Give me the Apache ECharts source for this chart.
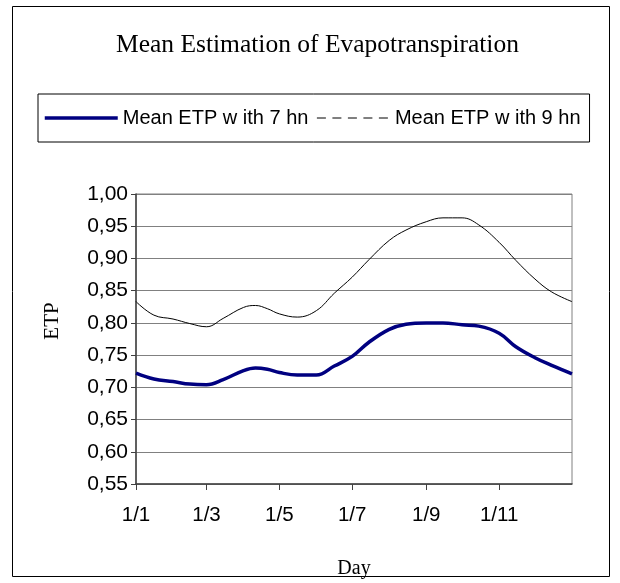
<!DOCTYPE html>
<html>
<head>
<meta charset="utf-8">
<script src="https://cdn.jsdelivr.net/npm/echarts@6/dist/echarts.min.js"></script>
<style>
  html, body { margin: 0; padding: 0; background: #fff; }
  #chart { width: 620px; height: 583px; }
</style>
</head>
<body>
<div id="chart"></div>
<script>
// Day of year for each sample point
var days = [0, 15, 31, 45, 59, 73, 90, 100, 110, 120, 135, 151, 166, 181, 195, 212, 226, 243, 257, 273, 287, 304, 318, 334, 348, 365];
// Mean ETP with 7 hn
var etp7 = [0.722, 0.713, 0.709, 0.705, 0.704, 0.712, 0.726, 0.730, 0.728, 0.723, 0.719, 0.719, 0.733, 0.748, 0.770, 0.790, 0.798, 0.800, 0.800, 0.797, 0.795, 0.784, 0.763, 0.746, 0.734, 0.721];
// Mean ETP with 9 hn
var etp9 = [0.833, 0.812, 0.806, 0.799, 0.794, 0.807, 0.824, 0.827, 0.822, 0.814, 0.809, 0.819, 0.846, 0.871, 0.898, 0.928, 0.944, 0.957, 0.963, 0.963, 0.952, 0.925, 0.897, 0.868, 0.848, 0.833];
// X tick positions (day of year) and labels
var tickDays = [0, 59, 120, 181, 243, 304];
var tickLabels = ['1/1', '1/3', '1/5', '1/7', '1/9', '1/11'];
var seriesNames = ['Mean ETP w ith 7 hn', 'Mean ETP w ith 9 hn'];

function pairs(xs, ys) { return xs.map(function (x, i) { return [x, ys[i]]; }); }

var chart = echarts.init(document.getElementById('chart'), null, { renderer: 'canvas' });
chart.setOption({
  backgroundColor: '#ffffff',
  animation: false,
  title: {
    text: 'Mean Estimation of Evapotranspiration',
    left: 111,
    top: 27,
    textStyle: { fontFamily: 'Liberation Serif', fontWeight: 'normal', fontSize: 25.5, color: '#000' }
  },
  legend: {
    left: 38,
    top: 94,
    padding: [14, 9, 14, 5],
    borderColor: '#000',
    borderWidth: 1,
    itemWidth: 73,
    itemHeight: 14,
    itemGap: 8,
    itemStyle: { opacity: 0 },
    textStyle: { fontFamily: 'Liberation Sans', fontSize: 20, color: '#000' },
    data: [
      { name: seriesNames[0], lineStyle: { width: 3.5, color: '#000080' } },
      { name: seriesNames[1], lineStyle: { type: [9, 6.5], width: 1, color: '#000' } }
    ]
  },
  graphic: [{
    type: 'rect',
    shape: { x: 12.5, y: 6.5, width: 597, height: 570 },
    style: { fill: 'none', stroke: '#000', lineWidth: 1 },
    silent: true,
    z: -1
  }],
  grid: {
    left: 136, right: 48, top: 194, bottom: 99,
    show: true, borderColor: '#808080', borderWidth: 1
  },
  xAxis: {
    type: 'value',
    min: 0, max: 365,
    name: 'Day',
    nameLocation: 'middle',
    nameGap: 75,
    nameTextStyle: { fontFamily: 'Liberation Serif', fontSize: 20, color: '#000' },
    axisLine: { show: true, lineStyle: { color: '#404040', width: 1.5 } },
    axisTick: { show: true, customValues: tickDays, length: 6, lineStyle: { color: '#404040' } },
    axisLabel: {
      customValues: tickDays,
      margin: 21,
      fontFamily: 'Liberation Sans', fontSize: 20.5, color: '#000',
      formatter: function (v) { var i = tickDays.indexOf(v); return i >= 0 ? tickLabels[i] : ''; }
    },
    splitLine: { show: false }
  },
  yAxis: {
    type: 'value',
    min: 0.55, max: 1.0, interval: 0.05,
    name: 'ETP',
    nameLocation: 'middle',
    nameGap: 73,
    nameRotate: 90,
    nameTextStyle: { fontFamily: 'Liberation Serif', fontSize: 21, color: '#000', padding: [0, 0, 0, 36] },
    axisLine: { show: true, lineStyle: { color: '#404040', width: 1.5 } },
    axisTick: { show: true, length: 5, inside: false, lineStyle: { color: '#404040' } },
    axisLabel: {
      margin: 8,
      fontFamily: 'Liberation Sans', fontSize: 21, color: '#000',
      formatter: function (v) { return v.toFixed(2).replace('.', ','); }
    },
    splitLine: { show: true, lineStyle: { color: '#808080', width: 1 } }
  },
  series: [
    {
      name: seriesNames[0],
      type: 'line',
      data: pairs(days, etp7),
      smooth: 0.4,
      symbol: 'none',
      lineStyle: { color: '#000080', width: 3.5 },
      itemStyle: { color: '#000080' }
    },
    {
      name: seriesNames[1],
      type: 'line',
      data: pairs(days, etp9),
      smooth: 0.4,
      symbol: 'none',
      lineStyle: { color: '#000', width: 1 },
      itemStyle: { color: '#000' }
    }
  ]
});
</script>
</body>
</html>
